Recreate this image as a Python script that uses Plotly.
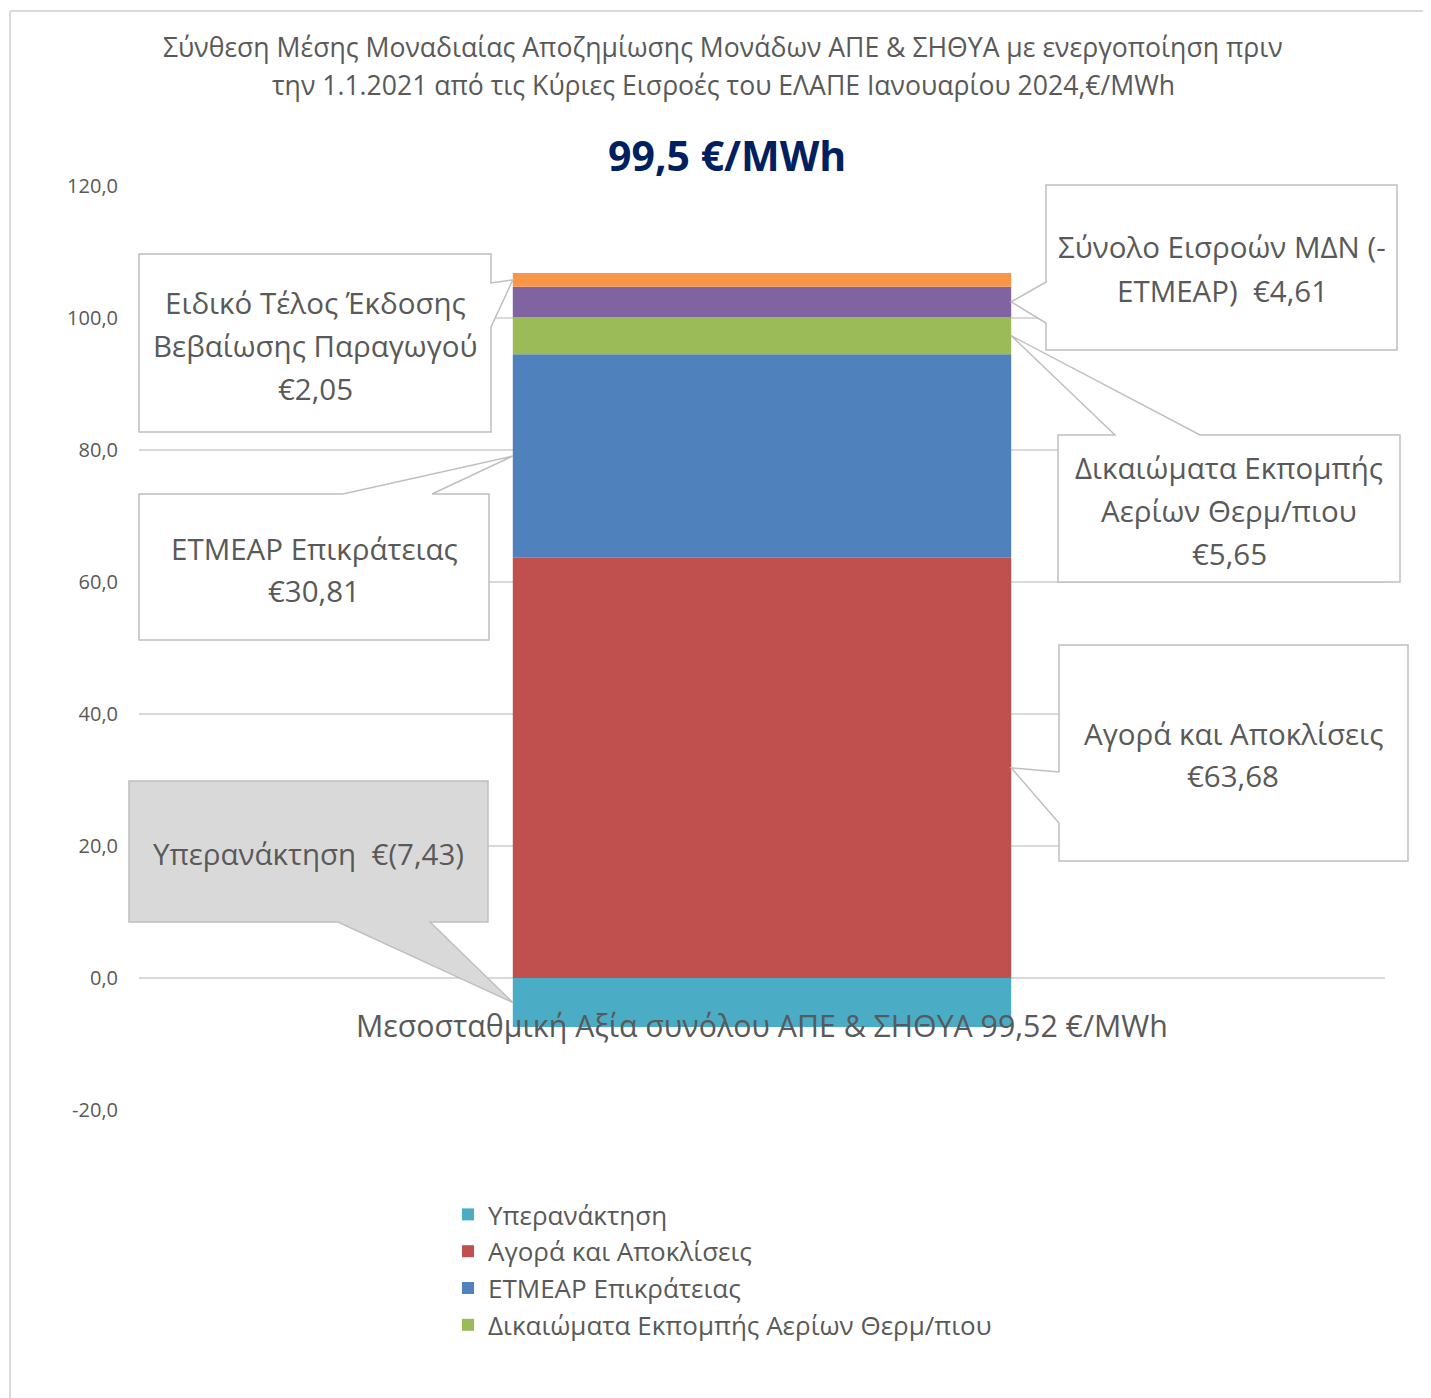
import plotly.graph_objects as go

# ---------------- data ----------------
category = ["Μεσοσταθμική Αξία συνόλου ΑΠΕ & ΣΗΘΥΑ 99,52 €/MWh"]
series_names = [
    "Υπερανάκτηση",
    "Αγορά και Αποκλίσεις",
    "ΕΤΜΕΑΡ Επικράτειας",
    "Δικαιώματα Εκπομπής Αερίων Θερμ/πιου",
    "Σύνολο Εισροών ΜΔΝ (-ΕΤΜΕΑΡ)",
    "Ειδικό Τέλος Έκδοσης Βεβαίωσης Παραγωγού",
]
series_values = [-7.43, 63.68, 30.81, 5.65, 4.61, 2.05]
series_colors = ["#4BACC6", "#C0504D", "#4F81BD", "#9BBB59", "#8064A2", "#F79646"]
series_in_legend = [True, True, True, True, False, False]
callout_lines = [
    ["Υπερανάκτηση  €(7,43)"],
    ["Αγορά και Αποκλίσεις", "€63,68"],
    ["ΕΤΜΕΑΡ Επικράτειας", "€30,81"],
    ["Δικαιώματα Εκπομπής", "Αερίων Θερμ/πιου", "€5,65"],
    ["Σύνολο Εισροών ΜΔΝ (-", "ΕΤΜΕΑΡ)  €4,61"],
    ["Ειδικό Τέλος Έκδοσης", "Βεβαίωσης Παραγωγού", "€2,05"],
]
y_ticks = [-20, 0, 20, 40, 60, 80, 100, 120]
y_tick_labels = [f"{v:.1f}".replace(".", ",") for v in y_ticks]
title_lines = ["Σύνθεση Μέσης Μοναδιαίας Αποζημίωσης Μονάδων ΑΠΕ & ΣΗΘΥΑ με ενεργοποίηση πριν",
               "την 1.1.2021 από τις Κύριες Εισροές του ΕΛΑΠΕ Ιανουαρίου 2024,€/MWh"]
headline = "99,5 €/MWh"

# ---------------- layout geometry (reference pixels, page has 8px body margin) ----------------
OFF = 8
FIG_W, FIG_H = 1431 - OFF, 1398 - OFF
L, R, T, B = 139 - OFF, 1385 - OFF, 186 - OFF, 1110 - OFF
W, H = R - L, B - T
YMIN, YMAX = -20, 120
BAR_W = 0.4
TXT = "#595959"
FONT = "Open Sans, Noto Sans, DejaVu Sans, sans-serif"


def xp(px):  # reference pixel -> paper x
    return (px - OFF - L) / W


def yp(py):  # reference pixel -> paper y
    return (B - (py - OFF)) / H


def yv(v):  # data value -> paper y via axis range
    return (v - YMIN) / (YMAX - YMIN)


fig = go.Figure()
for name, val, col, leg in zip(series_names, series_values, series_colors, series_in_legend):
    fig.add_trace(go.Bar(x=[0], y=[val], name=name, marker=dict(color=col, line=dict(width=0)),
                         width=BAR_W, showlegend=leg))

# segment midpoints (data units) for callout tips
mids = []
pos, neg = 0.0, 0.0
for v in series_values:
    if v >= 0:
        mids.append(pos + v / 2)
        pos += v
    else:
        mids.append(neg + v / 2)
        neg += v

LEFT_TIP = 0.5 - BAR_W / 2
RIGHT_TIP = 0.5 + BAR_W / 2

callouts = [
    dict(box=(129, 781, 488, 922), side="bottom", span=(338, 430), tip=LEFT_TIP, fill="#D9D9D9",
         cx=308, ys=[853]),
    dict(box=(1059, 645, 1408, 861), side="left", span=(772, 823), tip=RIGHT_TIP, fill="white",
         cx=1233, ys=[733, 775]),
    dict(box=(139, 494, 489, 640), side="top", span=(343, 432), tip=LEFT_TIP, fill="white",
         cx=314, ys=[548, 590]),
    dict(box=(1058, 435, 1400, 582), side="top", span=(1115, 1200), tip=RIGHT_TIP, fill="white",
         cx=1229, ys=[467, 510, 553]),
    dict(box=(1046, 185, 1397, 350), side="left", span=(282, 323), tip=RIGHT_TIP, fill="white",
         cx=1222, ys=[247, 290]),
    dict(box=(139, 254, 491, 432), side="right", span=(283, 327), tip=LEFT_TIP, fill="white",
         cx=315, ys=[302, 345, 388]),
]

shapes = []
annotations = []
for c, mid, lines in zip(callouts, mids, callout_lines):
    x0, y0, x1, y1 = c["box"]
    X0, X1, Y0, Y1 = xp(x0), xp(x1), yp(y0), yp(y1)
    tx, ty = c["tip"], yv(mid)
    s0, s1 = c["span"]
    if c["side"] == "right":
        pts = [(X0, Y0), (X1, Y0), (X1, yp(s0)), (tx, ty), (X1, yp(s1)), (X1, Y1), (X0, Y1)]
    elif c["side"] == "left":
        pts = [(X0, Y0), (X1, Y0), (X1, Y1), (X0, Y1), (X0, yp(s1)), (tx, ty), (X0, yp(s0))]
    elif c["side"] == "top":
        pts = [(X0, Y0), (xp(s0), Y0), (tx, ty), (xp(s1), Y0), (X1, Y0), (X1, Y1), (X0, Y1)]
    else:  # bottom
        pts = [(X0, Y0), (X1, Y0), (X1, Y1), (xp(s1), Y1), (tx, ty), (xp(s0), Y1), (X0, Y1)]
    path = "M " + " L ".join(f"{a:.5f},{b:.5f}" for a, b in pts) + " Z"
    shapes.append(dict(type="path", path=path, xref="paper", yref="paper", fillcolor=c["fill"],
                       line=dict(color="#BFBFBF", width=1.5), layer="above"))
    for line, ly in zip(lines, c["ys"]):
        annotations.append(dict(text=line, x=xp(c["cx"]), y=yp(ly), xref="paper", yref="paper",
                                xanchor="center", yanchor="middle", showarrow=False,
                                font=dict(family=FONT, size=29.5, color=TXT)))

# titles
for line, ly in zip(title_lines, [47, 85]):
    annotations.append(dict(text=line, x=xp(723), y=yp(ly), xref="paper", yref="paper",
                            xanchor="center", yanchor="middle", showarrow=False,
                            font=dict(family=FONT, size=26.6, color=TXT)))
annotations.append(dict(text="<b>" + headline + "</b>", x=xp(727), y=yp(155), xref="paper", yref="paper",
                        xanchor="center", yanchor="middle", showarrow=False,
                        font=dict(family=FONT, size=41, color="#002060")))
# category label (Excel draws it under the zero line)
annotations.append(dict(text=category[0], x=xp(762), y=yp(1025), xref="paper", yref="paper",
                        xanchor="center", yanchor="middle", showarrow=False,
                        font=dict(family=FONT, size=30.3, color=TXT)))

# outer frame (left + top)
shapes.append(dict(type="line", xref="paper", yref="paper", x0=xp(10), x1=xp(10), y0=yp(11), y1=yp(1400),
                   line=dict(color="#D9D9D9", width=2), layer="below"))
shapes.append(dict(type="line", xref="paper", yref="paper", x0=xp(10), x1=xp(1432), y0=yp(11), y1=yp(11),
                   line=dict(color="#D9D9D9", width=2), layer="below"))

fig.update_layout(
    width=FIG_W, height=FIG_H,
    margin=dict(l=L, r=FIG_W - R, t=T, b=FIG_H - B, autoexpand=False),
    paper_bgcolor="white", plot_bgcolor="white",
    barmode="relative",
    showlegend=True,
    legend=dict(x=xp(448), y=yp(1191), xanchor="left", yanchor="top", traceorder="normal",
                font=dict(family=FONT, size=26, color=TXT), bgcolor="rgba(0,0,0,0)",
                itemclick=False),
    xaxis=dict(range=[-0.5, 0.5], showticklabels=False, showgrid=False, zeroline=False,
               showline=False, ticks="", fixedrange=True),
    yaxis=dict(range=[YMIN, YMAX], tickvals=y_ticks, ticktext=y_tick_labels, showgrid=True,
               gridcolor="#D9D9D9", gridwidth=1.5, zeroline=True, zerolinecolor="#D9D9D9",
               zerolinewidth=1.5, showline=False, ticks="", ticklabelstandoff=20,
               tickfont=dict(family=FONT, size=20, color=TXT)),
    shapes=shapes,
    annotations=annotations,
)

fig.write_html("out.html")
